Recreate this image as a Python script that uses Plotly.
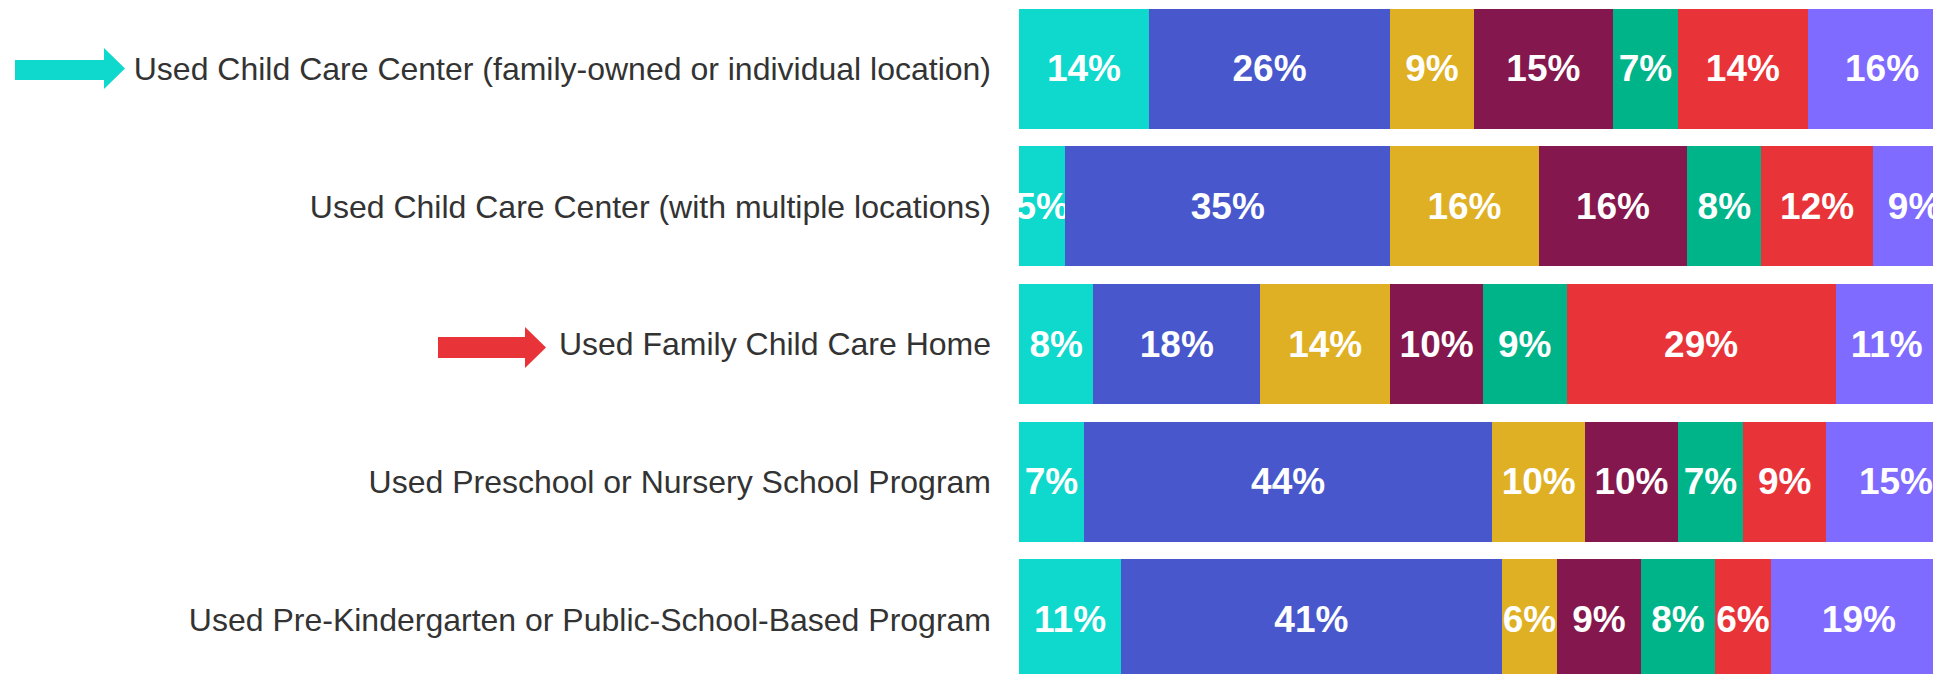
import plotly.graph_objects as go

# ---------------- data ----------------
categories = [
    "Used Child Care Center (family-owned or individual location)",
    "Used Child Care Center (with multiple locations)",
    "Used Family Child Care Home",
    "Used Preschool or Nursery School Program",
    "Used Pre-Kindergarten or Public-School-Based Program",
]
series_names = ["Segment 1", "Segment 2", "Segment 3", "Segment 4",
                "Segment 5", "Segment 6", "Segment 7"]
seg1 = [14, 5, 8, 7, 11]
seg2 = [26, 35, 18, 44, 41]
seg3 = [9, 16, 14, 10, 6]
seg4 = [15, 16, 10, 10, 9]
seg5 = [7, 8, 9, 7, 8]
seg6 = [14, 12, 29, 9, 6]
seg7 = [16, 9, 11, 15, 19]
series_values = [seg1, seg2, seg3, seg4, seg5, seg6, seg7]
colors = ["#0FD8CC", "#4858CC", "#E0B024", "#84174D",
          "#00B48A", "#E83338", "#7F6BFF"]

# ---------------- layout constants ----------------
OFF = 8            # default page body margin
W, H = 1941 - OFF, 674 - OFF
L = 1019 - OFF     # left margin (plot area start, figure coords)

fig = go.Figure()
for name, vals, col in zip(series_names, series_values, colors):
    fig.add_trace(go.Bar(
        y=categories, x=vals, name=name, orientation="h",
        marker=dict(color=col, line=dict(width=0)),
        texttemplate="%{x}%", textposition="inside",
        insidetextanchor="middle", textangle=0, constraintext="none",
        textfont=dict(family="Liberation Sans, Arial, sans-serif",
                      size=37, color="white", weight="bold"),
        hoverinfo="skip",
    ))


def px_x(px):
    return (px - OFF - L) / (W - L)


def px_y(py):
    return 1 - (py - OFF) / H


def arrow_path(x0, xb, xt, sy0, sy1, hy0, hy1):
    cy = (hy0 + hy1) / 2
    pts = [(x0, sy0), (xb, sy0), (xb, hy0), (xt, cy), (xb, hy1),
           (xb, sy1), (x0, sy1)]
    return "M " + " L ".join(f"{px_x(a):.5f},{px_y(b):.5f}" for a, b in pts) + " Z"


shapes = [
    dict(type="path", xref="paper", yref="paper", layer="above",
         path=arrow_path(15, 104, 125, 60, 80, 48, 89),
         fillcolor="#0FD8CC", line=dict(width=0)),
    dict(type="path", xref="paper", yref="paper", layer="above",
         path=arrow_path(438, 525, 546, 337, 358, 327, 368),
         fillcolor="#E83338", line=dict(width=0)),
]

fig.update_layout(
    width=W, height=H,
    barmode="stack", bargap=0.128,
    margin=dict(l=L, r=0, t=0, b=0, pad=0),
    paper_bgcolor="white", plot_bgcolor="white",
    showlegend=False,
    shapes=shapes,
    font=dict(family="Liberation Sans, Arial, sans-serif"),
    xaxis=dict(range=[0, 99.35], visible=False, fixedrange=True),
    yaxis=dict(type="category", range=[4.396, -0.441],
               showgrid=False, zeroline=False, showline=False,
               ticks="", ticklabelstandoff=27,
               tickfont=dict(family="Liberation Sans, Arial, sans-serif",
                             size=32, color="#333333")),
    uniformtext=dict(mode=False),
)

fig.write_html("out.html")
